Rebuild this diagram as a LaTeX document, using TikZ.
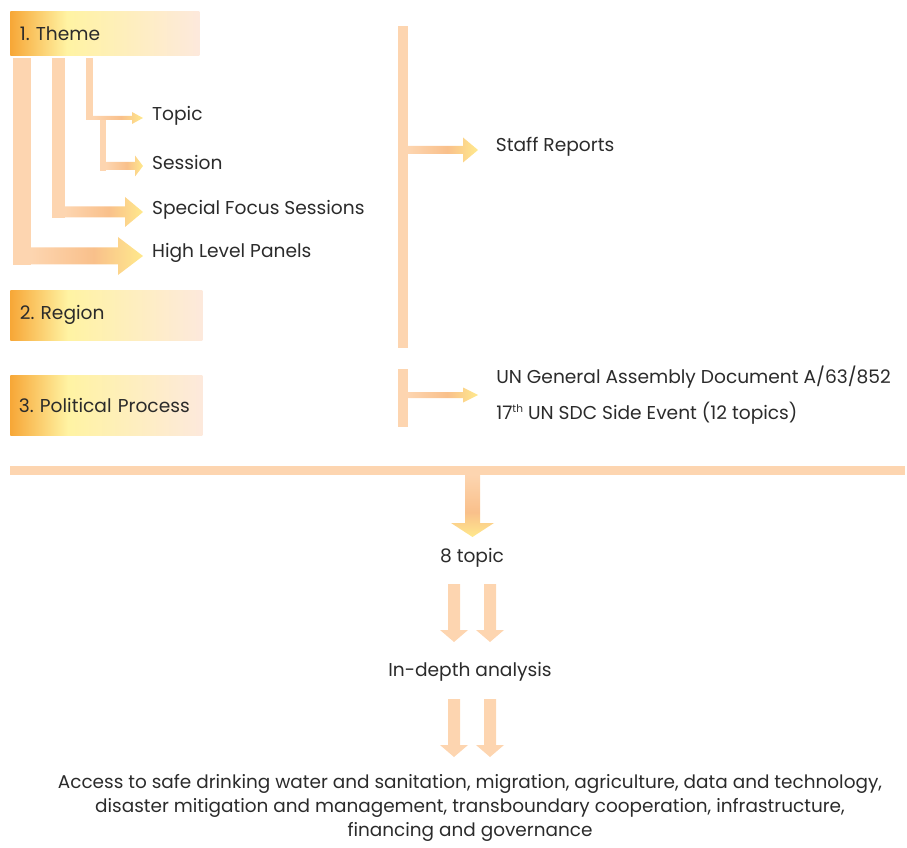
\documentclass[tikz,border=0pt]{standalone}
\usepackage{fontspec}
\setmainfont{Poppins}
\usetikzlibrary{positioning}
\frenchspacing

\definecolor{peach}{HTML}{FDD5B0}
\definecolor{armorange}{HTML}{F9C08B}
\definecolor{armyellow}{HTML}{FFE98C}
\definecolor{boxorange}{HTML}{F7A737}
\definecolor{boxyellow}{HTML}{FFF3A3}
\definecolor{boxpeach}{HTML}{FDE9DC}
\definecolor{ink}{HTML}{2B2B2B}

% shadings: the path's bounding box runs from 25bp to 75bp
\pgfdeclarehorizontalshading{catshade}{100bp}{color(0bp)=(boxorange); color(25bp)=(boxorange); color(40bp)=(boxyellow); color(75bp)=(boxpeach); color(100bp)=(boxpeach)}
\pgfdeclarehorizontalshading{armshade}{100bp}{color(0bp)=(peach); color(25bp)=(peach); color(53bp)=(armorange); color(75bp)=(armyellow); color(100bp)=(armyellow)}
\pgfdeclareverticalshading{downshade}{100bp}{color(0bp)=(armyellow); color(25bp)=(armyellow); color(45bp)=(armorange); color(75bp)=(peach); color(100bp)=(peach)}

\tikzset{
  bar/.style={fill=peach, draw=none},
  arm/.style={shade, shading=armshade, draw=none},
  down/.style={shade, shading=downshade, draw=none},
  catbox/.style={shade, shading=catshade, draw=none, anchor=north west, inner xsep=5pt,
    align=left, font=\fontsize{10.6}{13}\selectfont, text=ink},
  lbl/.style={anchor=west, inner sep=0pt, font=\fontsize{10.6}{13}\selectfont, text=ink},
  mid/.style={inner sep=0pt, font=\fontsize{10.6}{13}\selectfont, text=ink, align=center}
}

% right block arrow: tip, length, shaft half width, head half width, head length
\newcommand{\armto}[5]{\path[arm] (#1) -- ++(-#5,-#4) -- ++(0,#4-#3) -- ++(#5-#2,0)
  -- ++(0,2*#3) -- ++(#2-#5,0) -- ++(0,#4-#3) -- cycle;}
% down block arrow, same arguments and a style
\newcommand{\downto}[6]{\path[#6] (#1) -- ++(-#4,-#5) -- ++(#4-#3,0) -- ++(0,#5-#2)
  -- ++(2*#3,0) -- ++(0,#2-#5) -- ++(#4-#3,0) -- cycle;}

\begin{document}
\begin{tikzpicture}[x=0.02cm,y=-0.02cm]
  \useasboundingbox (0,0) rectangle (907,848);

  % categories
  \node[catbox, minimum width=3.78cm, minimum height=0.88cm, text width=3.4cm] (theme) at (10,11) {1. Theme};
  \node[catbox, minimum width=3.84cm, minimum height=1.0cm, text width=3.46cm, inner xsep=3pt] (region) at (10,290) {2. Region};
  \node[catbox, minimum width=3.84cm, minimum height=1.2cm, text width=3.5cm, inner xsep=3pt] (politic) at (10,375) {3. Political Process};

  % theme branches
  \coordinate (tTopic) at (143,118);
  \coordinate (tSession) at (143,166);
  \coordinate (tFocus) at (143,212);
  \coordinate (tPanels) at (143,256);

  \fill[bar] (13,58) rectangle (31,265);
  \fill[bar] (52,58) rectangle (65,218);
  \fill[bar] (86,58) rectangle (93,120);
  \fill[bar] (100,120) rectangle (106,171);
  \armto{tPanels}{112}{8.5}{19}{25}
  \armto{tFocus}{78}{5.5}{15}{18}
  \armto{tTopic}{50}{2}{6}{11}
  \armto{tSession}{37}{4}{10.5}{8}

  \node[lbl, right=5pt of tTopic, yshift=1pt] (topic) {Topic};
  \node[lbl, right=5pt of tSession, yshift=2pt] (session) {Session};
  \node[lbl, right=5pt of tFocus, yshift=1pt] (focus) {Special Focus Sessions};
  \node[lbl, right=5pt of tPanels, yshift=1.5pt] (panels) {High Level Panels};

  % outputs
  \coordinate (tStaff) at (478,150);
  \coordinate (tUN) at (478,395);
  \fill[bar] (398,26) rectangle (408,348);
  \fill[bar] (398,369) rectangle (408,427);
  \armto{tStaff}{70}{4}{12.5}{15}
  \armto{tUN}{70}{3}{7.5}{15}

  \node[lbl, right=10pt of tStaff, yshift=2pt] (staff) {Staff Reports};
  \node[lbl, anchor=west] (unga) at (496,377) {UN General Assembly Document A/63/852};
  \node[lbl, anchor=west] (sdc) at (496,413) {17{\fontsize{6}{6}\selectfont\raisebox{4pt}{th}} UN SDC Side Event (12 topics)};

  % summary
  \fill[bar] (10,466) rectangle (905,475);
  \coordinate (tMain) at (472.5,537);
  \downto{tMain}{62}{7.5}{21.5}{14}{down}

  \node[mid] (eight) at (472,558) {8 topic};
  \coordinate (tA1) at (454,642);
  \coordinate (tA2) at (490,642);
  \downto{tA1}{58}{6}{14}{12}{bar}
  \downto{tA2}{58}{6}{14}{12}{bar}

  \node[mid] (analysis) at (470,672) {In-depth analysis};
  \coordinate (tB1) at (454,757);
  \coordinate (tB2) at (490,757);
  \downto{tB1}{58}{6}{14}{12}{bar}
  \downto{tB2}{58}{6}{14}{12}{bar}

  \node[mid, font=\fontsize{10.5}{13.6}\selectfont, anchor=north] (themes) at (470,774)
    {Access to safe drinking water and sanitation, migration, agriculture, data and technology,\\
     disaster mitigation and management, transboundary cooperation, infrastructure,\\
     financing and governance};
\end{tikzpicture}
\end{document}
